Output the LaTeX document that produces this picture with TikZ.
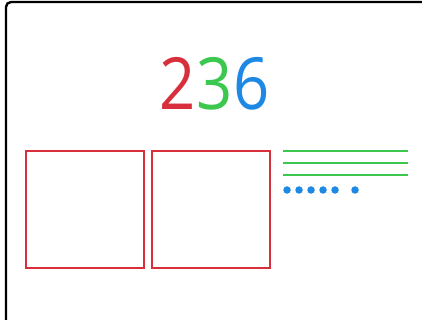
\documentclass[tikz,border=0pt]{standalone}
\usepackage{fontspec}
\setmainfont{Open Sans}
\definecolor{digred}{HTML}{D7303C}
\definecolor{diggreen}{HTML}{3CC84E}
\definecolor{digblue}{HTML}{1E88E5}
\tikzset{
  hundred/.style={draw=digred, line width=2.7pt},
  tenline/.style={draw=diggreen, line width=2.8pt},
  onedot/.style={circle, fill=digblue, inner sep=0pt, minimum size=7.5pt},
  frameline/.style={draw=black, line width=2.4pt, rounded corners=5pt},
  digit/.style={inner sep=0pt, font=\fontsize{72}{72}\selectfont, xscale=0.88}
}
\begin{document}
\begin{tikzpicture}[x=1pt,y=-1pt]
\useasboundingbox (0,0) rectangle (422,320);
\draw[frameline] (6,322) -- (6,2) -- (424,2);
\node[digit, anchor=base] (num) at (215,110) {\textcolor{digred}{2}\kern1pt\textcolor{diggreen}{3}\kern1pt\textcolor{digblue}{6}};
\node[hundred, minimum width=118pt, minimum height=117pt, inner sep=0pt] (h1) at (85,209.5) {};
\node[hundred, minimum width=118pt, minimum height=117pt, inner sep=0pt] (h2) at (211,209.5) {};
\coordinate (t1a) at (283,151); \coordinate (t1b) at (408,151);
\coordinate (t2a) at (283,163); \coordinate (t2b) at (408,163);
\coordinate (t3a) at (283,175); \coordinate (t3b) at (408,175);
\draw[tenline] (t1a) -- (t1b);
\draw[tenline] (t2a) -- (t2b);
\draw[tenline] (t3a) -- (t3b);
\foreach \x [count=\i] in {287,299,311,323,335,355} {
  \node[onedot] (o\i) at (\x,190) {};
}
\end{tikzpicture}
\end{document}
